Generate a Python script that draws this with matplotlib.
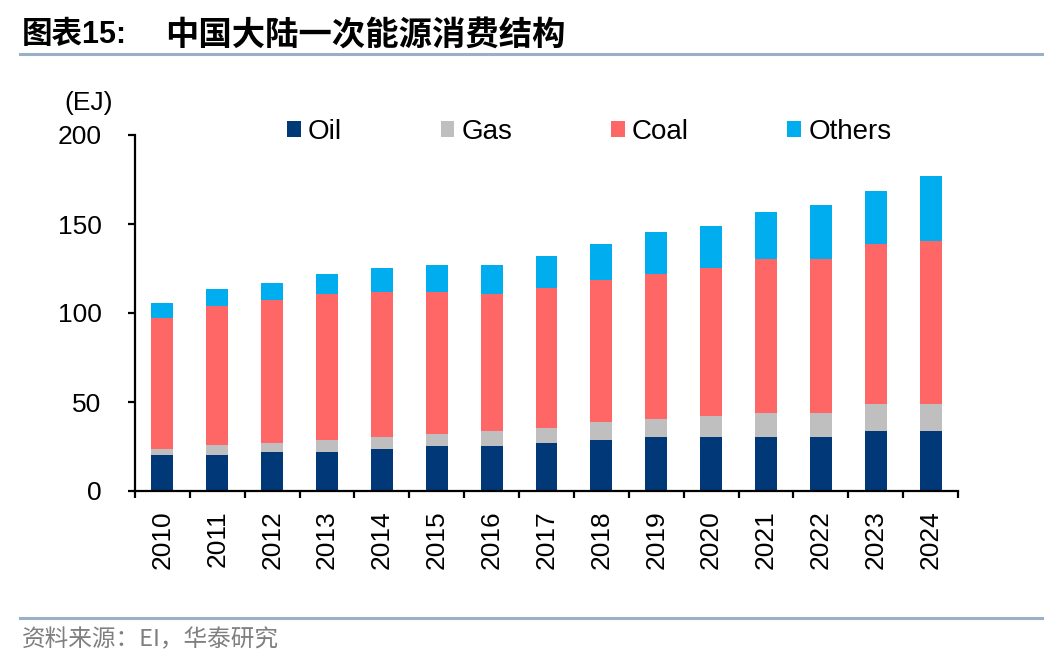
import numpy as np
import matplotlib
matplotlib.use("Agg")
import matplotlib.pyplot as plt
from matplotlib.lines import Line2D

plt.rcParams['font.family'] = ['Liberation Sans', 'Noto Sans CJK SC']

# data (EJ)
years = ['2010', '2011', '2012', '2013', '2014', '2015', '2016', '2017',
         '2018', '2019', '2020', '2021', '2022', '2023', '2024']
oil = [20.4, 20.4, 22.0, 22.0, 23.7, 25.4, 25.4, 27.0,
       28.7, 30.4, 30.4, 30.4, 30.4, 33.7, 33.7]
gas = [3.3, 5.2, 5.0, 6.7, 6.7, 6.6, 8.3, 8.4,
       10.0, 10.0, 11.6, 13.3, 13.3, 15.0, 15.0]
coal = [73.5, 78.3, 80.2, 81.9, 81.6, 80.0, 76.9, 78.5,
        80.0, 81.6, 83.4, 86.9, 86.9, 90.0, 91.9]
others = [8.2, 9.8, 9.8, 11.4, 13.4, 15.0, 16.4, 18.1,
          20.0, 23.4, 23.3, 26.4, 29.8, 30.0, 36.4]

series = [('Oil', oil, '#003878'), ('Gas', gas, '#BFBFBF'),
          ('Coal', coal, '#FF6666'), ('Others', others, '#00AEEF')]

fig = plt.figure(figsize=(10.48, 6.64), dpi=100)
ax = fig.add_axes([135 / 1048, 1 - 491 / 664, 823 / 1048, 356 / 664])

x = np.arange(len(years))
bottom = np.zeros(len(years))
for name, vals, color in series:
    ax.bar(x, vals, width=0.4, bottom=bottom, color=color, label=name, zorder=2)
    bottom += np.array(vals)

ax.set_xlim(-0.5, len(years) - 0.5)
ax.set_ylim(0, 200)
ax.set_yticks([0, 50, 100, 150, 200])
ax.tick_params(axis='y', labelsize=19, length=5, width=1.6, pad=19)

# year labels centred, tick marks between bars
ax.set_xticks(x)
ax.set_xticklabels(years, rotation=90)
ax.set_xticks(np.arange(-0.5, len(years), 1), minor=True)
ax.tick_params(axis='x', which='major', length=0, labelsize=19, pad=14)
ax.tick_params(axis='x', which='minor', length=5, width=1.6)

for side in ['top', 'right']:
    ax.spines[side].set_visible(False)
for side in ['left', 'bottom']:
    ax.spines[side].set_linewidth(1.6)

ax.legend(loc='center left', bbox_to_anchor=(287 / 1048, 1 - 132 / 664),
          bbox_transform=fig.transFigure, ncol=4, frameon=False,
          fontsize=20, handlelength=0.5, handleheight=0.5,
          handletextpad=0.25, columnspacing=3.55, borderpad=0, borderaxespad=0)

fig.text(64 / 1048, 1 - 103 / 664, '(EJ)', fontsize=19, va='center')

# header and footer
fig.text(22 / 1048, 1 - 35 / 664, '图表15:', fontsize=22, fontweight='bold',
         va='center', family=['Liberation Sans', 'Noto Sans CJK SC'])
fig.text(165 / 1048, 1 - 35 / 664, '中国大陆一次能源消费结构', fontsize=24,
         fontweight='bold', va='center', family=['Noto Sans CJK SC'])
line_color = '#9AB0C8'
fig.add_artist(Line2D([20 / 1048, 1042 / 1048], [1 - 54 / 664, 1 - 54 / 664],
                      color=line_color, lw=2.2))
fig.add_artist(Line2D([20 / 1048, 1042 / 1048], [1 - 618 / 664, 1 - 618 / 664],
                      color=line_color, lw=2.2))
fig.text(22 / 1048, 1 - 640 / 664, '资料来源：EI，华泰研究', fontsize=17,
         color='#7F7F7F', va='center', family=['Noto Sans CJK SC', 'Liberation Sans'])

fig.savefig('out.png', dpi=100)
